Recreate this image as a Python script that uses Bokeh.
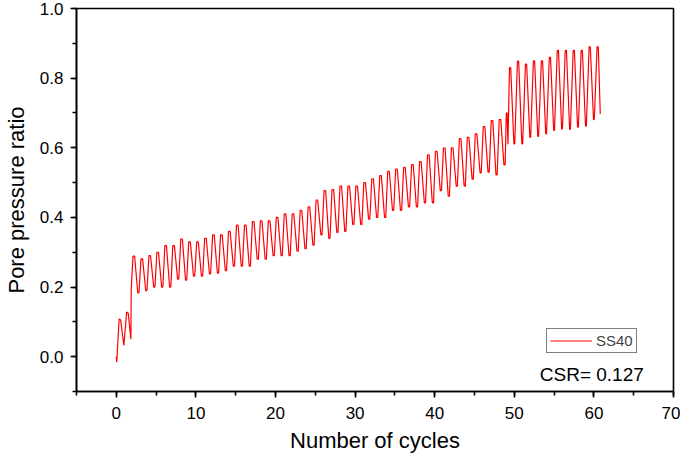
from bokeh.plotting import figure
from bokeh.embed import file_html
from bokeh.resources import INLINE
from bokeh.models import (Range1d, SingleIntervalTicker, NumeralTickFormatter,
                          Legend, LegendItem, Label, ColumnDataSource)

# ---- data ----
# start of the test (before the big rise)
start_x = [0.0, 0.05, 0.1, 0.35, 0.55, 0.95, 1.3, 1.5, 1.83, 1.88]
start_y = [0.0, -0.016, 0.0, 0.108, 0.105, 0.032, 0.128, 0.125, 0.05, 0.195]

# cycles 2..48: peak (early in cycle) and trough (late in cycle)
cycles_a = list(range(2, 49))
peaks_a = [0.289, 0.281, 0.29, 0.30, 0.319, 0.319, 0.338, 0.33, 0.33, 0.34,
           0.35, 0.35, 0.36, 0.378, 0.378, 0.388, 0.39, 0.39, 0.40, 0.41,
           0.41, 0.42, 0.43, 0.45, 0.477, 0.48, 0.49, 0.49, 0.49, 0.50,
           0.511, 0.52, 0.532, 0.539, 0.544, 0.552, 0.56, 0.58, 0.59, 0.599,
           0.60, 0.626, 0.63, 0.64, 0.661, 0.678, 0.681]
troughs_a = [0.183, 0.19, 0.20, 0.20, 0.20, 0.223, 0.22, 0.231, 0.231, 0.238,
             0.24, 0.247, 0.26, 0.26, 0.26, 0.28, 0.28, 0.29, 0.29, 0.29,
             0.303, 0.31, 0.32, 0.35, 0.34, 0.357, 0.36, 0.38, 0.38, 0.395,
             0.40, 0.40, 0.42, 0.42, 0.43, 0.43, 0.442, 0.442, 0.477, 0.461,
             0.49, 0.49, 0.51, 0.528, 0.53, 0.522, 0.551]

# jump near cycle 49
jump_x = [49.0, 49.1, 49.2]
jump_y = [0.70, 0.70, 0.61]

# cycles 49..60 after the jump
cycles_b = list(range(49, 61))
peaks_b = [0.83, 0.849, 0.84, 0.85, 0.85, 0.86, 0.88, 0.88, 0.88, 0.88,
           0.89, 0.89]
troughs_b = [0.611, 0.611, 0.63, 0.633, 0.64, 0.65, 0.654, 0.653, 0.659,
             0.662, 0.681, 0.697]

x_ticks_interval = 10
y_ticks_interval = 0.2

# ---- assemble the line (each turning point held briefly, like the trace) ----
xs = list(start_x)
ys = list(start_y)
for c, pk, tr in zip(cycles_a, peaks_a, troughs_a):
    xs += [c + 0.1, c + 0.3, c + 0.7, c + 0.85]
    ys += [pk, pk, tr, tr]
xs += jump_x
ys += jump_y
last = len(cycles_b) - 1
for i, (c, pk, tr) in enumerate(zip(cycles_b, peaks_b, troughs_b)):
    if i == last:
        xs += [c + 0.4, c + 0.55, c + 0.8]
        ys += [pk, pk, tr]
    else:
        xs += [c + 0.4, c + 0.55, c + 0.95, c + 1.05]
        ys += [pk, pk, tr, tr]

src = ColumnDataSource(dict(x=xs, y=ys))

FONT = "Liberation Sans"

p = figure(width=680, height=455, x_range=Range1d(-5, 70), y_range=Range1d(-0.1, 1.0),
           output_backend="svg", toolbar_location=None,
           min_border_left=76, min_border_right=7, min_border_top=8, min_border_bottom=63)
p.xgrid.visible = False
p.ygrid.visible = False
p.outline_line_color = "black"
p.outline_line_width = 1.6

r = p.line("x", "y", source=src, line_color="#ff0000", line_width=1.2)

p.xaxis.ticker = SingleIntervalTicker(interval=x_ticks_interval, num_minor_ticks=2)
p.yaxis.ticker = SingleIntervalTicker(interval=y_ticks_interval, num_minor_ticks=2)
p.yaxis.formatter = NumeralTickFormatter(format="0.0")

for ax in (p.xaxis[0], p.yaxis[0]):
    ax.axis_line_width = 1.6
    ax.axis_line_color = "black"
    ax.major_tick_line_width = 1.6
    ax.minor_tick_line_width = 1.6
    ax.major_tick_out = 6
    ax.major_tick_in = 0
    ax.minor_tick_out = 4
    ax.minor_tick_in = 0
    ax.major_label_text_font = FONT
    ax.major_label_text_font_size = "17px"
    ax.major_label_text_color = "black"
    ax.axis_label_text_font = FONT
    ax.axis_label_text_font_size = "22px"
    ax.axis_label_text_font_style = "normal"
    ax.axis_label_text_color = "black"

p.xaxis.axis_label = "Number of cycles"
p.yaxis.axis_label = "Pore pressure ratio"
p.xaxis.major_label_standoff = 9
p.xaxis.axis_label_standoff = 6
p.yaxis.major_label_standoff = 7
p.yaxis.axis_label_standoff = 8

legend = Legend(items=[LegendItem(label="SS40", renderers=[r])],
                location=(470, 38), orientation="vertical")
legend.border_line_color = "black"
legend.border_line_width = 1
legend.label_text_font = FONT
legend.label_text_font_size = "15px"
legend.glyph_width = 42
legend.glyph_height = 13
legend.label_height = 13
legend.padding = 3
legend.margin = 0
legend.spacing = 0
legend.label_standoff = 4
legend.background_fill_alpha = 1.0
p.add_layout(legend)

csr = Label(x=53.2, y=-0.05, text="CSR= 0.127", text_font=FONT,
            text_font_size="19px", text_color="black", text_baseline="alphabetic")
p.add_layout(csr)

open("out.html", "w").write(file_html(p, INLINE))
